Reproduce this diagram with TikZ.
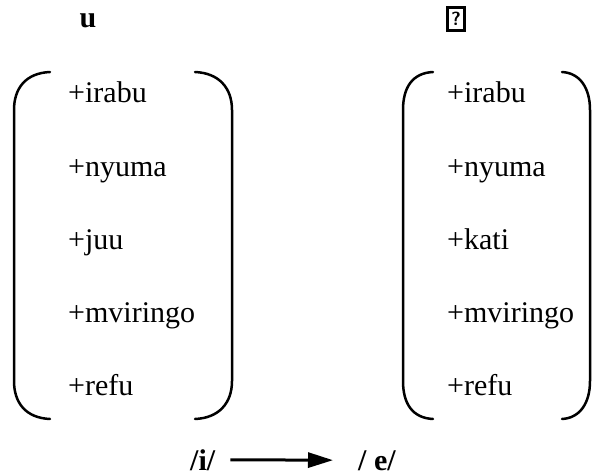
\documentclass[tikz,border=0pt]{standalone}
\usepackage{fontspec}
\setmainfont{Liberation Serif}
\usetikzlibrary{arrows.meta,positioning}

\tikzset{
  feature/.style={anchor=base west, inner sep=0pt, font=\fontsize{30}{36}\selectfont},
  vowel/.style={anchor=base, inner sep=0pt, font=\bfseries\fontsize{30}{36}\selectfont},
  brace/.style={line width=2.5pt, line cap=round},
  tofu/.style={draw, line width=3pt, inner sep=0pt, minimum width=17pt, minimum height=23pt,
    font=\sffamily\bfseries\fontsize{19}{19}\selectfont},
}

\begin{document}
\begin{tikzpicture}[x=1pt,y=-1pt]
	\useasboundingbox (0,0) rectangle (592,476);
	% top labels
	\node[vowel] (uhead) at (88,28) {u};
	\node[tofu] (ohead) at (456,19) {?};
	% left matrix
	\node[feature] (l1) at (68,103) {+irabu};
	\node[feature] (l2) at (68,176) {+nyuma};
	\node[feature] (l3) at (68,249) {+juu};
	\node[feature] (l4) at (68,322) {+mviringo};
	\node[feature] (l5) at (68,395) {+refu};
	\draw[brace] (50,72) .. controls (26,73) and (14,88) .. (14,110) -- (14,381)
		.. controls (14,403) and (26,418) .. (50,419);
	\draw[brace] (195,72) .. controls (219,73) and (232,88) .. (232,110) -- (232,381)
		.. controls (232,403) and (219,418) .. (195,419);
	% right matrix
	\node[feature] (r1) at (447,103) {+irabu};
	\node[feature] (r2) at (447,176) {+nyuma};
	\node[feature] (r3) at (447,249) {+kati};
	\node[feature] (r4) at (447,322) {+mviringo};
	\node[feature] (r5) at (447,395) {+refu};
	\draw[brace] (433,72) .. controls (412,73) and (403,88) .. (403,110) -- (403,381)
		.. controls (403,403) and (412,418) .. (433,419);
	\draw[brace] (562,72) .. controls (580,73) and (590,88) .. (590,110) -- (590,381)
		.. controls (590,403) and (580,418) .. (562,419);
	% rule
	\node[vowel, anchor=base west] (src) at (190,470) {/i/};
	\node[vowel, anchor=base west] (tgt) at (358,470) {/ e/};
	\draw[line width=3pt, -{Triangle[length=25pt,width=15pt]}, shorten <=15pt, shorten >=25pt]
		(src.east) -- (tgt.west);
\end{tikzpicture}
\end{document}
